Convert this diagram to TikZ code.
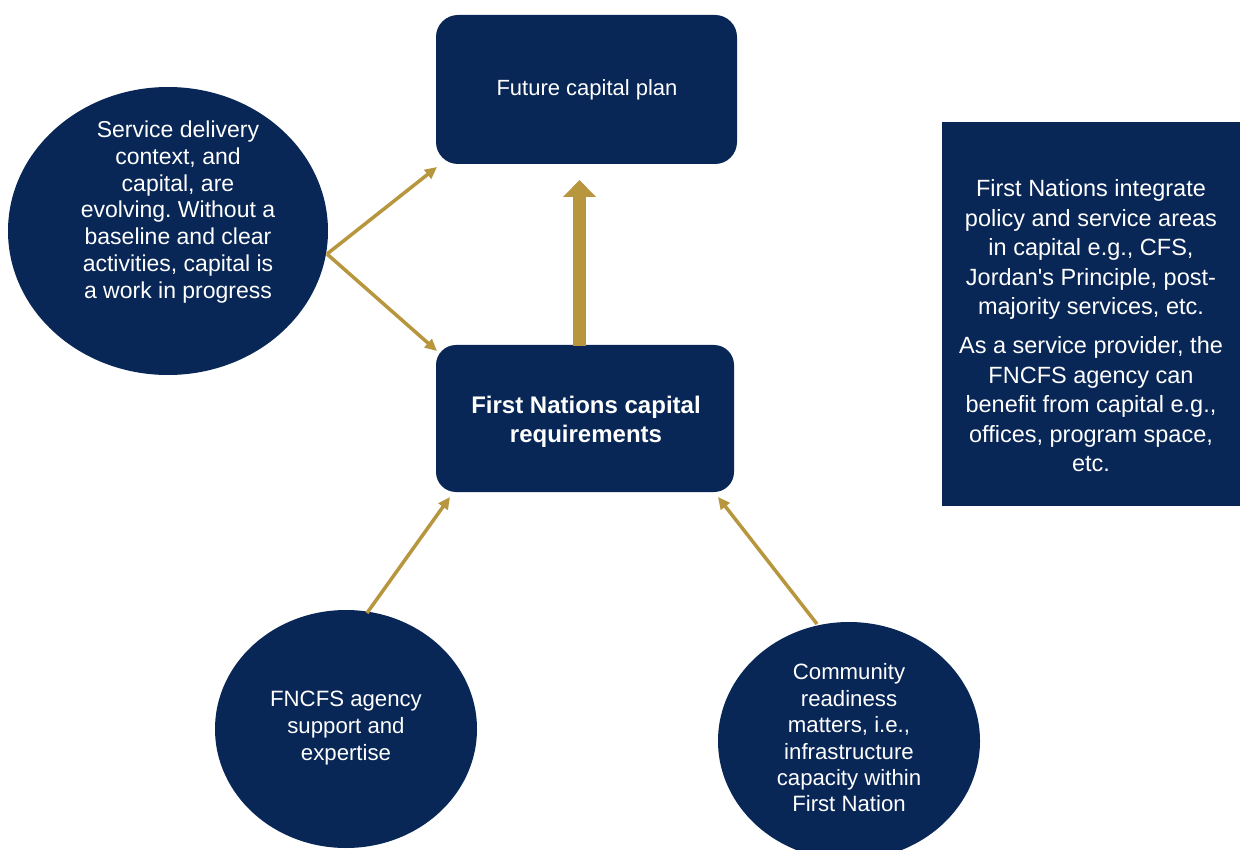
\documentclass[tikz,border=0pt]{standalone}
\usepackage{fontspec}
\setmainfont{Liberation Sans}
\usetikzlibrary{arrows.meta,shapes.geometric}
\frenchspacing
\definecolor{navy}{RGB}{8,38,86}
\definecolor{gold}{RGB}{183,150,62}
\tikzset{
  rbox/.style={fill=navy, rounded corners=22pt, inner sep=0pt},
  sbox/.style={fill=navy, inner sep=0pt},
  blob/.style={ellipse, fill=navy, inner sep=0pt},
  txt/.style={text=white, align=center, inner sep=0pt},
  thin arrow/.style={draw=gold, line width=3.5pt, -{Triangle[length=12pt,width=11pt]}},
  thick arrow/.style={draw=gold, line width=13pt, -{Triangle[length=17pt,width=32pt]}},
}
\begin{document}
\begin{tikzpicture}[x=1pt,y=-1pt]
\useasboundingbox (0,0) rectangle (1240,850);
\fill[white] (0,0) rectangle (1240,850);
% boxes
\node[rbox, minimum width=301pt, minimum height=149pt] (top) at (586.5,89.5) {};
\node[txt, font=\fontsize{22}{26}\selectfont] (toptxt) at (587,90) {Future capital plan};
\node[rbox, minimum width=298pt, minimum height=147pt, rounded corners=20pt] (mid) at (585,418.5) {};
\node[txt, font=\fontsize{24}{29}\selectfont\bfseries] (midtxt) at (586,422) {First Nations capital\\requirements};
\node[sbox, minimum width=300pt, minimum height=384pt] (right) at (1092,314) {};
\node[txt, font=\fontsize{23.5}{29.5}\selectfont] (righttxt) at (1091,326) {First Nations integrate\\policy and service areas\\in capital e.g., CFS,\\Jordan\textquotesingle s Principle, post-\\majority services, etc.\\[9.5pt]As a service provider, the\\FNCFS agency can\\benefit from capital e.g.,\\offices, program space,\\etc.};
% circles
\node[blob, minimum width=320pt, minimum height=288pt] (c1) at (168,231) {};
\node[txt, font=\fontsize{23}{26.7}\selectfont] (c1txt) at (178,212) {Service delivery\\context, and\\capital, are\\evolving. Without a\\baseline and clear\\activities, capital is\\a work in progress};
\node[blob, minimum width=262pt, minimum height=238pt] (c2) at (346,729) {};
\node[txt, font=\fontsize{22.2}{27}\selectfont] (c2txt) at (346,728) {FNCFS agency\\support and\\expertise};
\node[blob, minimum width=262pt, minimum height=238pt] (c3) at (849,741) {};
\node[txt, font=\fontsize{22.2}{26.4}\selectfont] (c3txt) at (849,738) {Community\\readiness\\matters, i.e.,\\infrastructure\\capacity within\\First Nation};
% connector points
\coordinate (v) at (327,254);
\coordinate (t1) at (437,167);
\coordinate (t2) at (437,351);
\coordinate (s3) at (367,613);
\coordinate (t3) at (450,497);
\coordinate (s4) at (817,624);
\coordinate (t4) at (718,497);
\coordinate (s5) at (579.5,346);
\coordinate (t5) at (579.5,180);
% arrows
\draw[thin arrow] (v) -- (t1);
\draw[thin arrow] (v) -- (t2);
\draw[thin arrow] (s3) -- (t3);
\draw[thin arrow] (s4) -- (t4);
\draw[thick arrow] (s5) -- (t5);
\end{tikzpicture}
\end{document}
